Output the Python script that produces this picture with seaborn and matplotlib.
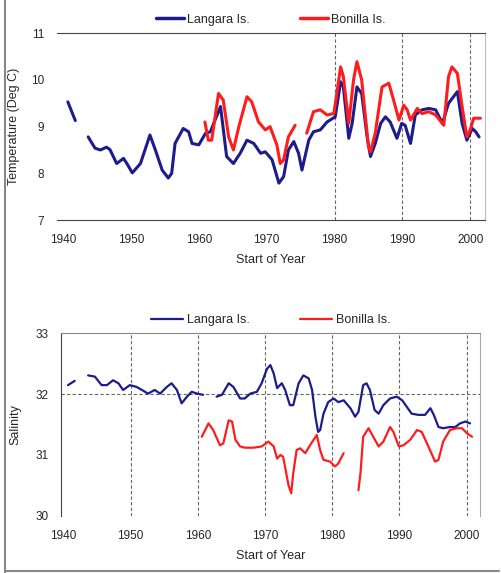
import matplotlib
matplotlib.use('Agg')
import matplotlib.pyplot as plt
from matplotlib.lines import Line2D
import seaborn as sns
import pandas as pd
import numpy as np

BLUE = '#1c1c8c'
RED = '#ff1c1c'
GRID = '#666666'

# ---- Temperature (Deg C), segments split at data gaps ----
lang_temp_years = [
    [1940.7, 1941.8],
    [1943.7, 1944.7, 1945.5, 1946.4, 1946.9, 1947.9, 1948.9, 1949.4, 1950.2, 1951.4,
     1952.8, 1953.6, 1954.6, 1955.5, 1956.0, 1956.5, 1957.7, 1958.5, 1959.0, 1960.0,
     1961.0, 1961.7, 1963.2, 1964.1, 1965.1, 1966.1, 1967.1, 1968.1, 1969.1, 1969.8,
     1970.8, 1971.8, 1972.5, 1973.2, 1974.0, 1974.7, 1975.2, 1976.2, 1976.9, 1977.9,
     1978.9, 1980.1, 1980.9, 1981.3, 1982.1, 1982.6, 1983.3, 1984.0, 1984.8, 1985.3,
     1986.0, 1986.8, 1987.5, 1988.2, 1989.2, 1989.9, 1990.4, 1991.2, 1991.9, 1992.9,
     1993.9, 1994.9, 1995.9, 1996.8, 1998.1, 1998.8, 1999.5, 2000.3, 2000.8, 2001.3],
]
lang_temp = [
    [9.53, 9.13],
    [8.78, 8.54, 8.50, 8.56, 8.51, 8.21, 8.32, 8.21, 8.01, 8.21,
     8.82, 8.50, 8.07, 7.90, 8.00, 8.64, 8.96, 8.89, 8.64, 8.61,
     8.86, 8.89, 9.43, 8.36, 8.21, 8.43, 8.71, 8.64, 8.43, 8.46,
     8.29, 7.79, 7.93, 8.50, 8.68, 8.43, 8.07, 8.71, 8.89, 8.93,
     9.10, 9.21, 9.96, 9.85, 8.75, 9.07, 9.85, 9.71, 8.78, 8.36,
     8.64, 9.07, 9.21, 9.10, 8.75, 9.07, 9.03, 8.64, 9.25, 9.36,
     9.39, 9.36, 9.07, 9.50, 9.75, 9.07, 8.71, 8.96, 8.89, 8.78],
]
bon_temp_years = [
    [1960.9, 1961.4, 1961.9, 1962.9, 1963.6, 1964.4, 1965.1, 1965.9, 1967.1, 1967.8,
     1968.8, 1969.8, 1970.5, 1971.5, 1972.0, 1972.5, 1973.2, 1974.2],
    [1975.9, 1976.9, 1977.9, 1978.9, 1979.9, 1980.9, 1981.3, 1982.1, 1982.8, 1983.3,
     1984.0, 1985.0, 1985.3, 1986.0, 1987.0, 1988.0, 1988.7, 1989.5, 1990.2, 1990.7,
     1991.2, 1992.2, 1992.9, 1993.9, 1994.9, 1996.1, 1996.8, 1997.3, 1998.1, 1998.8,
     1999.5, 2000.0, 2000.5, 2001.5],
]
bon_temp = [
    [9.10, 8.71, 8.71, 9.71, 9.57, 8.78, 8.50, 9.00, 9.64, 9.53,
     9.10, 8.93, 9.00, 8.61, 8.21, 8.29, 8.78, 9.03],
    [8.86, 9.32, 9.36, 9.25, 9.28, 10.28, 10.07, 9.07, 10.00, 10.39,
     10.00, 8.57, 8.46, 8.86, 9.85, 9.93, 9.57, 9.14, 9.46, 9.36,
     9.14, 9.39, 9.28, 9.32, 9.25, 9.03, 10.07, 10.28, 10.14, 9.43,
     8.78, 8.93, 9.18, 9.18],
]

# ---- Salinity ----
lang_sal_years = [
    [1940.7, 1941.7],
    [1943.7, 1944.7, 1945.7, 1946.5, 1947.4, 1948.2, 1948.9, 1949.9, 1950.9, 1951.7,
     1952.6, 1953.6, 1954.4, 1955.4, 1956.1, 1956.9, 1957.6, 1958.4, 1959.1, 1959.9,
     1960.8],
    [1962.8, 1963.6, 1964.6, 1965.3, 1966.3, 1967.0, 1967.8, 1968.8, 1969.5, 1970.3,
     1970.8, 1971.3, 1971.8, 1972.5, 1973.0, 1973.7, 1974.2, 1975.0, 1975.7, 1976.5,
     1977.0, 1977.5, 1977.9, 1978.2, 1978.7, 1979.4, 1980.2, 1980.9, 1981.7, 1982.7,
     1983.4, 1983.9, 1984.6, 1985.1, 1985.6, 1986.3, 1986.9, 1987.6, 1988.6, 1989.6,
     1990.4, 1991.1, 1991.8, 1992.8, 1993.8, 1994.6, 1995.1, 1995.8, 1996.5, 1997.5,
     1998.3, 1999.0, 1999.8, 2000.5],
]
lang_sal = [
    [32.15, 32.22],
    [32.31, 32.29, 32.15, 32.15, 32.23, 32.18, 32.07, 32.15, 32.12, 32.07,
     32.01, 32.07, 32.01, 32.12, 32.18, 32.07, 31.85, 31.96, 32.04, 32.01,
     31.99],
    [31.96, 31.99, 32.18, 32.12, 31.93, 31.93, 32.01, 32.04, 32.18, 32.42,
     32.48, 32.34, 32.10, 32.18, 32.07, 31.82, 31.82, 32.18, 32.31, 32.26,
     32.07, 31.63, 31.38, 31.41, 31.68, 31.87, 31.93, 31.87, 31.90, 31.77,
     31.63, 31.71, 32.15, 32.18, 32.07, 31.74, 31.68, 31.82, 31.93, 31.96,
     31.90, 31.79, 31.68, 31.66, 31.66, 31.77, 31.66, 31.46, 31.44, 31.46,
     31.46, 31.52, 31.55, 31.52],
]
bon_sal_years = [
    [1960.6, 1961.6, 1962.3, 1963.3, 1963.8, 1964.6, 1965.1, 1965.6, 1966.3, 1967.0,
     1968.3, 1969.5, 1970.5, 1971.3, 1971.8, 1972.3, 1972.7, 1973.5, 1973.9, 1974.2,
     1974.7, 1975.2, 1976.0, 1976.7, 1977.7, 1978.2, 1978.7, 1979.7, 1980.4, 1980.9,
     1981.7],
    [1983.9, 1984.2, 1984.6, 1985.4, 1986.1, 1986.9, 1987.6, 1988.6, 1989.1, 1989.9,
     1990.6, 1991.6, 1992.6, 1993.3, 1994.3, 1995.3, 1995.8, 1996.5, 1997.5, 1998.5,
     1999.3, 2000.0, 2000.8],
]
bon_sal = [
    [31.30, 31.52, 31.41, 31.16, 31.19, 31.57, 31.55, 31.25, 31.14, 31.12,
     31.12, 31.14, 31.22, 31.14, 30.94, 31.00, 30.97, 30.50, 30.37, 30.70,
     31.08, 31.11, 31.03, 31.16, 31.33, 31.08, 30.92, 30.89, 30.81, 30.86,
     31.03],
    [30.42, 30.70, 31.30, 31.44, 31.30, 31.14, 31.22, 31.46, 31.38, 31.14,
     31.16, 31.25, 31.41, 31.38, 31.14, 30.89, 30.92, 31.22, 31.41, 31.44,
     31.44, 31.36, 31.30],
]

STATIONS = ['Langara Is.', 'Bonilla Is.']
TICK_YEARS = [1940, 1950, 1960, 1970, 1980, 1990, 2000]


def to_frame(years_a, vals_a, years_b, vals_b):
    rows = []
    for name, ys, vs in [(STATIONS[0], years_a, vals_a), (STATIONS[1], years_b, vals_b)]:
        for i, (yy, vv) in enumerate(zip(ys, vs)):
            for y, v in zip(yy, vv):
                rows.append({'station': name, 'seg': f'{name}{i}', 'year': y, 'value': v})
    return pd.DataFrame(rows)


temp_df = to_frame(lang_temp_years, lang_temp, bon_temp_years, bon_temp)
sal_df = to_frame(lang_sal_years, lang_sal, bon_sal_years, bon_sal)

sns.set_style('white')
plt.rcParams['font.family'] = ['Liberation Sans', 'DejaVu Sans']
palette = {STATIONS[0]: BLUE, STATIONS[1]: RED}

fig = plt.figure(figsize=(5.02, 5.73), dpi=100)
ax1 = fig.add_axes([0.1135, 0.616, 0.853, 0.326])
ax2 = fig.add_axes([0.1215, 0.100, 0.835, 0.318])

# Top panel: temperature
sns.lineplot(data=temp_df, x='year', y='value', hue='station', units='seg',
             estimator=None, palette=palette, linewidth=2.2, ax=ax1, sort=False)
ax1.set_xlim(1939.1, 2002.2)
ax1.set_ylim(7, 11)
ax1.set_yticks([7, 8, 9, 10, 11])
ax1.set_xticks(TICK_YEARS)
for yr in [1980, 1990, 2000]:
    ax1.axvline(yr, color=GRID, linestyle=(0, (3, 2)), linewidth=0.8, zorder=0)
ax1.spines['left'].set_visible(False)
ax1.spines['right'].set_color('#bbbbbb')
for s in ['top', 'bottom']:
    ax1.spines[s].set_color('#444444')
ax1.set_xlabel('Start of Year', fontsize=9, labelpad=6)
ax1.set_ylabel('Temperature (Deg C)', fontsize=9, labelpad=8)
ax1.legend(handles=[Line2D([], [], color=BLUE, lw=2.5), Line2D([], [], color=RED, lw=2.5)],
           labels=STATIONS, loc='lower center', bbox_to_anchor=(0.5, 1.0), ncol=2,
           frameon=False, fontsize=9, handlelength=2.2, columnspacing=4, handletextpad=0.3,
           borderaxespad=0.2)

# Bottom panel: salinity
sns.lineplot(data=sal_df, x='year', y='value', hue='station', units='seg',
             estimator=None, palette=palette, linewidth=1.6, ax=ax2, sort=False)
ax2.set_xlim(1939.66, 2002.0)
ax2.set_ylim(30, 33)
ax2.set_yticks([30, 31, 32, 33])
ax2.set_xticks(TICK_YEARS)
for yr in TICK_YEARS[1:]:
    ax2.axvline(yr, color=GRID, linestyle=(0, (3, 2)), linewidth=0.8, zorder=0)
ax2.axhline(32, color=GRID, linestyle=(0, (3, 2)), linewidth=0.8, zorder=0)
ax2.spines['bottom'].set_visible(False)
ax2.spines['left'].set_color('#444444')
ax2.spines['top'].set_color('#888888')
ax2.spines['right'].set_color('#aaaaaa')
ax2.set_xlabel('Start of Year', fontsize=9, labelpad=6)
ax2.set_ylabel('Salinity', fontsize=9, labelpad=10)
ax2.legend(handles=[Line2D([], [], color=BLUE, lw=1.6), Line2D([], [], color=RED, lw=1.6)],
           labels=STATIONS, loc='lower center', bbox_to_anchor=(0.5, 1.0), ncol=2,
           frameon=False, fontsize=9, handlelength=2.6, columnspacing=4, handletextpad=0.3,
           borderaxespad=0.2)

for ax in (ax1, ax2):
    ax.tick_params(axis='x', labelsize=8.5, length=0, pad=10)
    ax.tick_params(axis='y', labelsize=8.5, length=0, pad=9)

# outer panel borders
fig.add_artist(Line2D([0.01, 0.01], [0.0, 1.0], color='#888888', lw=1.5))
fig.add_artist(Line2D([0.01, 0.995], [0.004, 0.004], color='#888888', lw=1.5))

fig.savefig('out.png', dpi=100)
